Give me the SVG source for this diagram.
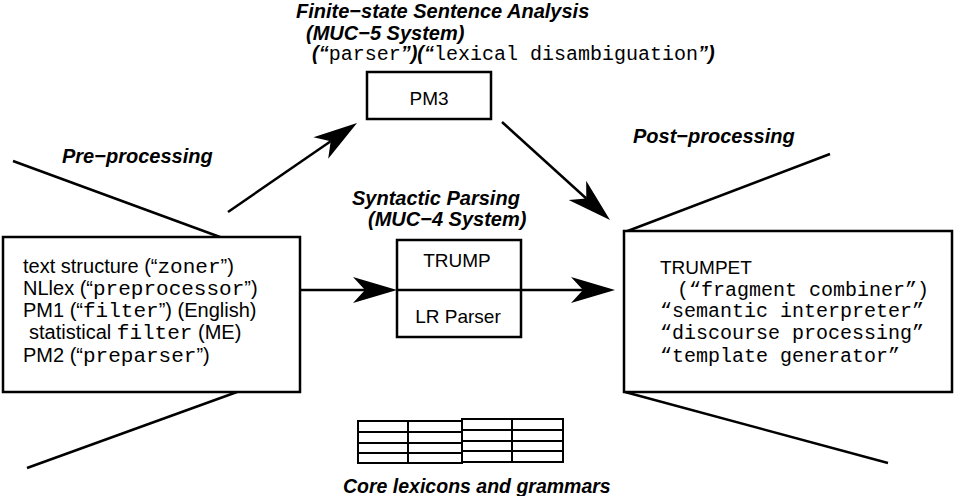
<svg xmlns="http://www.w3.org/2000/svg" width="960" height="496" viewBox="0 0 960 496">
<defs>
<marker id="dart" markerUnits="userSpaceOnUse" viewBox="-14 -15 48 30" markerWidth="48" markerHeight="30" refX="0" refY="0" orient="auto">
<path d="M32,0 L-12,-13 L0,0 L-12,13 Z" fill="#000"/>
</marker>
</defs>
<style>
.box{fill:#fff;stroke:#000;stroke-width:2.5}
.ln{fill:none;stroke:#000;stroke-width:2.5}
.tb{fill:none;stroke:#000;stroke-width:2}
.lbl{font-family:"Liberation Sans",Arial,sans-serif;font-weight:bold;font-style:italic;font-size:20px;fill:#000}
.sans{font-family:"Liberation Sans",Arial,sans-serif;font-size:19px;font-weight:normal;font-style:normal;fill:#000}
.lsans{font-family:"Liberation Sans",Arial,sans-serif;font-size:20px;font-weight:normal;font-style:normal;fill:#000}
.mono{font-family:"Liberation Mono","Courier New",monospace;font-size:20px;font-weight:normal;font-style:normal;fill:#000}
.lmono{font-family:"Liberation Mono","Courier New",monospace;font-size:21px;font-weight:normal;font-style:normal;fill:#000}
</style>
<rect x="0" y="0" width="960" height="496" fill="#fff"/>

<g id="preprocessing">
<path class="ln" d="M13,161 L220,237"/>
<path class="ln" d="M237,392 L27,468"/>
<rect class="box" x="3" y="237" width="297" height="155"/>
<text class="lbl" x="62" y="163">Pre−processing</text>
<text class="lsans" x="23" y="273">text structure (“<tspan class="lmono">zoner</tspan>”)</text>
<text class="lsans" x="23" y="295">NLlex (“<tspan class="lmono">preprocessor</tspan>”)</text>
<text class="lsans" x="23" y="317">PM1 (“<tspan class="lmono">filter</tspan>”) (English)</text>
<text class="lsans" x="29" y="339">statistical <tspan class="lmono">filter</tspan> (ME)</text>
<text class="lsans" x="23" y="362">PM2 (“<tspan class="lmono">preparser</tspan>”)</text>
</g>

<g id="pm3">
<text class="lbl" x="296" y="18">Finite−state Sentence Analysis</text>
<text class="lbl" x="306" y="40">(MUC−5 System)</text>
<text class="lbl" x="312" y="60">(“<tspan class="mono">parser</tspan>”)(“<tspan class="mono">lexical disambiguation</tspan>”)</text>
<rect class="box" x="367" y="72" width="124" height="47"/>
<text class="sans" x="429" y="105" text-anchor="middle">PM3</text>
</g>

<g id="trump">
<text class="lbl" x="352" y="205">Syntactic Parsing</text>
<text class="lbl" x="368" y="226">(MUC−4 System)</text>
<rect class="box" x="397" y="240" width="124" height="97"/>
<path class="ln" d="M397,290 L521,290"/>
<text class="sans" x="457" y="267" text-anchor="middle">TRUMP</text>
<text class="sans" x="458" y="323" text-anchor="middle">LR Parser</text>
</g>

<g id="postprocessing">
<path class="ln" d="M625,232 L830,154"/>
<path class="ln" d="M625,392 L888,463"/>
<rect class="box" x="624" y="231" width="328" height="161"/>
<text class="lbl" x="633" y="143">Post−processing</text>
<text class="sans" x="660" y="274">TRUMPET</text>
<text class="mono" x="677" y="296">(“fragment combiner”)</text>
<text class="mono" x="660" y="317">“semantic interpreter”</text>
<text class="mono" x="660" y="339">“discourse processing”</text>
<text class="mono" x="660" y="362">“template generator”</text>
</g>

<g id="lexicons">
<rect class="tb" x="358" y="421" width="104" height="42"/>
<path class="tb" d="M408,421 V463 M358,432 H462 M358,443 H462 M358,453 H462"/>
<rect class="tb" x="462" y="419" width="101" height="43"/>
<path class="tb" d="M512,419 V462 M462,430 H563 M462,441 H563 M462,451 H563"/>
<text class="lbl" x="343" y="493" style="font-size:19.5px">Core lexicons and grammars</text>
</g>

<g id="connectors">
<path class="ln" d="M228,212 L330.7,141.2" marker-end="url(#dart)"/>
<path class="ln" d="M502,122 L586.3,198.5" marker-end="url(#dart)"/>
<path class="ln" d="M300,290 L365,290" marker-end="url(#dart)"/>
<path class="ln" d="M521,290 L583,290" marker-end="url(#dart)"/>
</g>
</svg>
